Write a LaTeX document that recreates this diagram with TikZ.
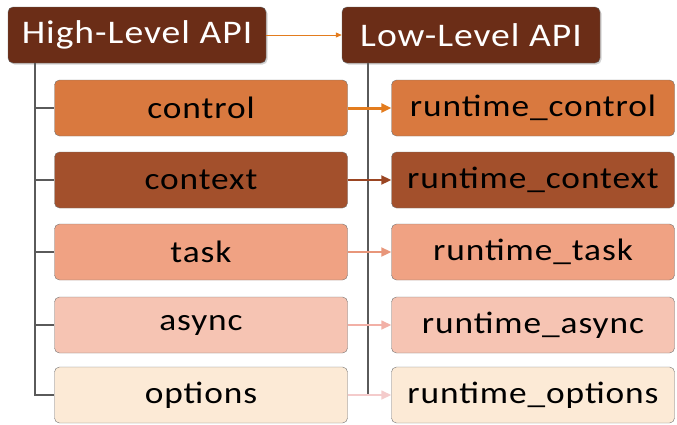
\documentclass[tikz,border=0pt]{standalone}
\usepackage{fontspec}
\setmainfont[FakeStretch=1.14,LetterSpace=3]{Carlito}
\usetikzlibrary{arrows.meta,shadows}

\definecolor{apibrown}{HTML}{6B2D17}
\definecolor{ctlfill}{HTML}{D9793F}
\definecolor{ctxfill}{HTML}{A3502C}
\definecolor{taskfill}{HTML}{F0A283}
\definecolor{asyncfill}{HTML}{F6C4B3}
\definecolor{optfill}{HTML}{FCEAD6}
\definecolor{ctlarrow}{HTML}{E37C1E}
\definecolor{ctxarrow}{HTML}{9A4522}
\definecolor{taskarrow}{HTML}{E8967A}
\definecolor{asyncarrow}{HTML}{F2B0A6}
\definecolor{optarrow}{HTML}{F4CBCB}
\definecolor{treegray}{HTML}{5A5A5A}

\begin{document}
\begin{tikzpicture}[x=1pt, y=-1pt,
    apibox/.style={draw=black!60, fill=apibrown, text=white, rounded corners=5pt,
        minimum width=258pt, minimum height=56pt, inner sep=0pt,
        drop shadow={opacity=0.35, shadow xshift=1.5pt, shadow yshift=-1.5pt},
        font=\fontsize{33}{38}\selectfont},
    hibox/.style={draw=black!55, rounded corners=5pt, minimum width=293pt,
        minimum height=56pt, inner sep=0pt, font=\fontsize{31}{36}\selectfont},
    lobox/.style={hibox, minimum width=283pt},
    tree/.style={draw=treegray, line width=1.5pt},
    link/.style={-{Triangle[length=10pt,width=9pt]}}]
    \useasboundingbox (0,0) rectangle (677,424);

    \node[apibox] (hi) at (137,35) {High-Level API};
    \node[apibox] (lo) at (471,35) {Low-Level API};

    \node[hibox, fill=ctlfill] (control) at (201,108) {control};
    \node[hibox, fill=ctxfill] (context) at (201,180) {context};
    \node[hibox, fill=taskfill] (task) at (201,252) {task};
    \node[hibox, fill=asyncfill] (async) at (201,325) {async};
    \node[hibox, fill=optfill] (options) at (201,395) {options};

    \node[lobox, fill=ctlfill] (rcontrol) at (533,108) {runtime\_control};
    \node[lobox, fill=ctxfill] (rcontext) at (533,180) {runtime\_context};
    \node[lobox, fill=taskfill] (rtask) at (533,252) {runtime\_task};
    \node[lobox, fill=asyncfill] (rasync) at (533,325) {runtime\_async};
    \node[lobox, fill=optfill] (roptions) at (533,395) {runtime\_options};

    % tree lines
    \draw[tree] ([xshift=27pt]hi.south west) |- (options.west);
    \draw[tree] ([xshift=27pt]hi.south west) |- (control.west);
    \draw[tree] ([xshift=27pt]hi.south west) |- (context.west);
    \draw[tree] ([xshift=27pt]hi.south west) |- (task.west);
    \draw[tree] ([xshift=27pt]hi.south west) |- (async.west);
    \draw[tree] ([xshift=26pt]lo.south west) -- ([xshift=26pt]lo.south west |- roptions.west);

    % links
    \draw[-{Triangle[length=6pt,width=5pt]}, ctlarrow, line width=1pt] (hi) -- (lo);
    \draw[link, ctlarrow, line width=3pt] (control) -- (rcontrol);
    \draw[link, ctxarrow, line width=2pt] (context) -- (rcontext);
    \draw[link, taskarrow, line width=2pt] (task) -- (rtask);
    \draw[link, asyncarrow, line width=1.5pt] (async) -- (rasync);
    \draw[link, optarrow, line width=1.5pt] (options) -- (roptions);
\end{tikzpicture}
\end{document}
